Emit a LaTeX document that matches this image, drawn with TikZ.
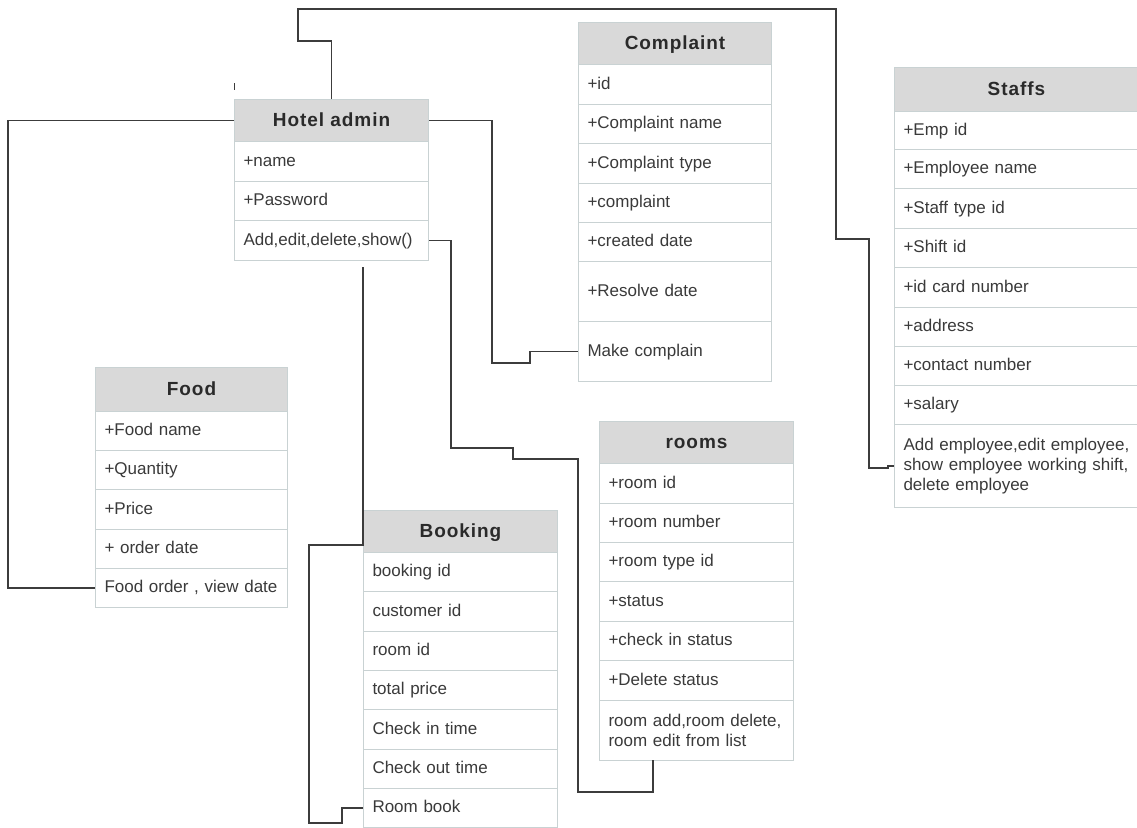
\documentclass[tikz,border=0pt]{standalone}
\usepackage{fontspec}
\setmainfont{Liberation Sans}
\newfontfamily\hdrfont{Liberation Sans}[LetterSpace=5]
\definecolor{bcol}{HTML}{C9D2D3}
\definecolor{hcol}{HTML}{D9D9D9}
\definecolor{htext}{HTML}{2A2A2A}
\definecolor{rtext}{HTML}{3A3A3A}
\definecolor{ccol}{HTML}{3C3C3C}
\tikzset{
  x=1pt,y=-1pt,
  hdr/.style={draw=bcol, line width=1pt, fill=hcol, anchor=north west, inner sep=0pt,
    text height=16pt, text depth=3.5pt,
    minimum height=#1, text=htext, font=\hdrfont\bfseries\fontsize{19}{22}\selectfont},
  mrow/.style={draw=bcol, line width=1pt, fill=white, anchor=north west, inner xsep=9pt, inner ysep=0pt,
    minimum height=#1, align=left, text=rtext, font=\fontsize{17}{20}\selectfont},
  row/.style={mrow=#1, text height=12.5pt, text depth=3.5pt},
  conn/.style={draw=ccol, line width=1.2pt},
}
\begin{document}
\begin{tikzpicture}
\useasboundingbox[fill=white] (0,0) rectangle (1137,827);

% Hotel admin
\node[hdr=42, minimum width=194] (ha) at (234,99) {Hotel admin};
\node[row=40, text width=176] (ha1) at (234,141) {+name};
\node[row=39, text width=176] (ha2) at (234,181) {+Password};
\node[row=40, text width=176] (ha3) at (234,220) {Add,edit,delete,show()};

% Complaint
\node[hdr=42, minimum width=193] (co) at (578,22) {Complaint};
\node[row=40, text width=175] (co1) at (578,64) {+id};
\node[row=39, text width=175] (co2) at (578,104) {+Complaint name};
\node[row=40, text width=175] (co3) at (578,143) {+Complaint type};
\node[row=39, text width=175] (co4) at (578,183) {+complaint};
\node[row=39, text width=175] (co5) at (578,222) {+created date};
\node[row=60, text width=175] (co6) at (578,261) {+Resolve date};
\node[row=60, text width=175] (co7) at (578,321) {Make complain};

% Staffs
\node[hdr=44, minimum width=244] (st) at (894,67) {Staffs};
\node[row=38, text width=226] (st1) at (894,111) {+Emp id};
\node[row=39, text width=226] (st2) at (894,149) {+Employee name};
\node[row=40, text width=226] (st3) at (894,188) {+Staff type id};
\node[row=39, text width=226] (st4) at (894,228) {+Shift id};
\node[row=40, text width=226] (st5) at (894,267) {+id card number};
\node[row=39, text width=226] (st6) at (894,307) {+address};
\node[row=39, text width=226] (st7) at (894,346) {+contact number};
\node[row=39, text width=226] (st8) at (894,385) {+salary};
\node[mrow=83, text width=226] (st9) at (894,424) {Add employee,edit employee,\\show employee working shift,\\delete employee};

% Food
\node[hdr=44, minimum width=192] (fo) at (95,367) {Food};
\node[row=39, text width=174] (fo1) at (95,411) {+Food name};
\node[row=39, text width=174] (fo2) at (95,450) {+Quantity};
\node[row=40, text width=174] (fo3) at (95,489) {+Price};
\node[row=39, text width=174] (fo4) at (95,529) {+ order date};
\node[row=39, text width=174] (fo5) at (95,568) {Food order , view date};

% Booking
\node[hdr=42, minimum width=194] (bo) at (363,510) {Booking};
\node[row=39, text width=176] (bo1) at (363,552) {booking id};
\node[row=40, text width=176] (bo2) at (363,591) {customer id};
\node[row=39, text width=176] (bo3) at (363,631) {room id};
\node[row=39, text width=176] (bo4) at (363,670) {total price};
\node[row=40, text width=176] (bo5) at (363,709) {Check in time};
\node[row=39, text width=176] (bo6) at (363,749) {Check out time};
\node[row=39, text width=176] (bo7) at (363,788) {Room book};

% rooms
\node[hdr=42, minimum width=194] (ro) at (599,421) {rooms};
\node[row=40, text width=176] (ro1) at (599,463) {+room id};
\node[row=39, text width=176] (ro2) at (599,503) {+room number};
\node[row=39, text width=176] (ro3) at (599,542) {+room type id};
\node[row=40, text width=176] (ro4) at (599,581) {+status};
\node[row=39, text width=176] (ro5) at (599,621) {+check in status};
\node[row=40, text width=176] (ro6) at (599,660) {+Delete status};
\node[mrow=60, text width=176] (ro7) at (599,700) {room add,room delete,\\room edit from list};

% free ends
\coordinate (haB) at (363,267);
\coordinate (roB) at (653,760);
\coordinate (tickA) at (234,83);
\coordinate (tickB) at (234,90);

% connectors
\draw[conn] (ha.north) -- (ha.north |- 0,41) -- (298,41) -- (298,9) -- (836,9) -- (836,239)
  -- (869,239) -- (869,468) -- (888,468) -- (888,0 |- st9.west) -- (st9.west);
\draw[conn] (ha.west) -- (8,0 |- ha.west) -- (8,0 |- fo5.west) -- (fo5.west);
\draw[conn] (ha.east) -- (492,0 |- ha.east) -- (492,363) -- (530,363) -- (530,0 |- co7.west) -- (co7.west);
\draw[conn] (ha3.east) -- (451,0 |- ha3.east) -- (451,448) -- (513,448) -- (513,459) -- (578,459)
  -- (578,792) -- (653,792) -- (roB);
\draw[conn] (haB) -- (363,545) -- (309,545) -- (309,823) -- (342,823) -- (342,0 |- bo7.west) -- (bo7.west);
\draw[conn, line width=1pt] (tickA) -- (tickB);
\end{tikzpicture}
\end{document}
